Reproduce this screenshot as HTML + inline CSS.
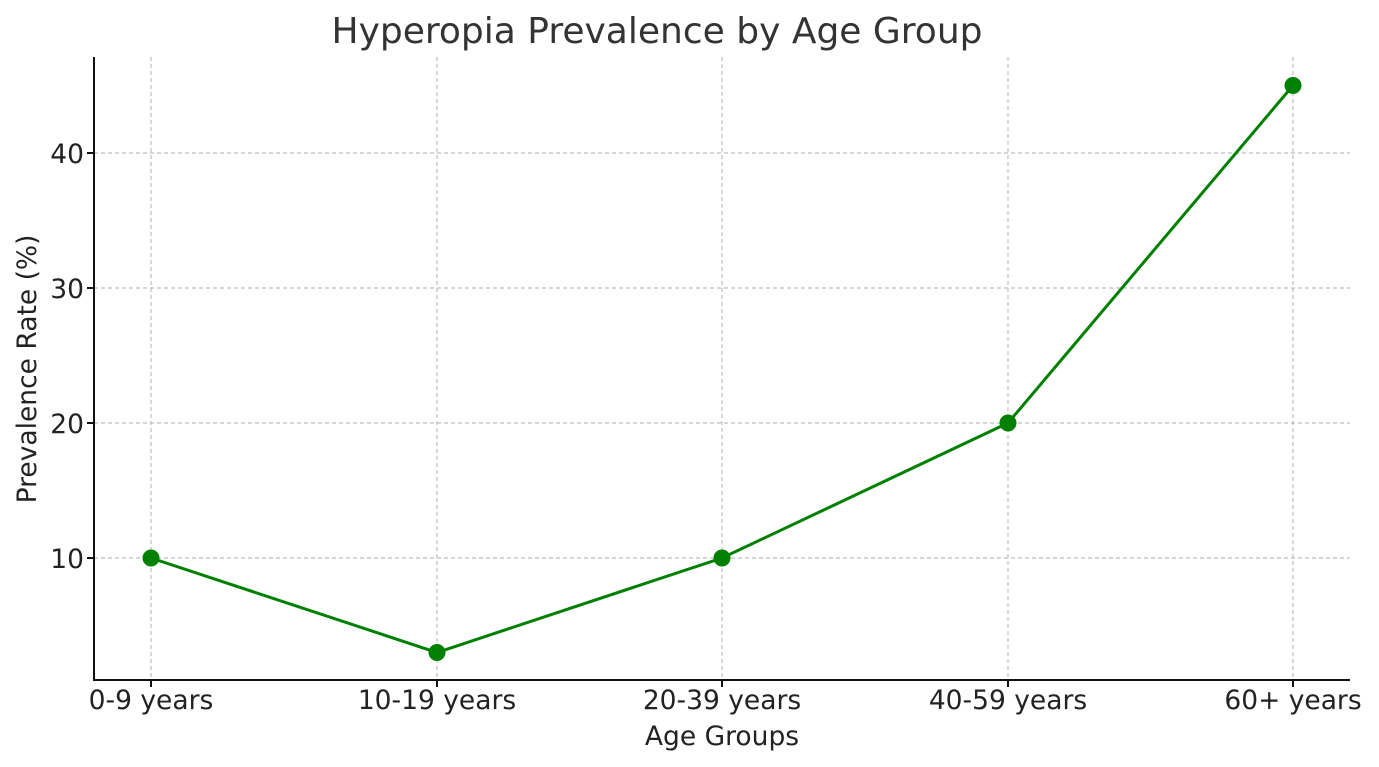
<!DOCTYPE html>
<html><head><meta charset="utf-8"><style>body{margin:0;background:#fff}svg{display:block}</style></head>
<body>
<svg width="1379" height="767" viewBox="0 0 1379 767" xmlns="http://www.w3.org/2000/svg" font-family="DejaVu Sans, Liberation Sans, sans-serif" fill="#222">
<g stroke="#bdbdbd" stroke-width="1.2" stroke-dasharray="4,3">
<line x1="151" y1="57" x2="151" y2="680"/><line x1="437" y1="57" x2="437" y2="680"/><line x1="722" y1="57" x2="722" y2="680"/><line x1="1008" y1="57" x2="1008" y2="680"/><line x1="1293" y1="57" x2="1293" y2="680"/>
<line x1="94" y1="153" x2="1350" y2="153"/><line x1="94" y1="288" x2="1350" y2="288"/><line x1="94" y1="423" x2="1350" y2="423"/><line x1="94" y1="558" x2="1350" y2="558"/>
</g>
<g stroke="#111" stroke-width="2">
<line x1="94" y1="57" x2="94" y2="681"/><line x1="93" y1="680" x2="1350" y2="680"/>
<line x1="87" y1="153" x2="94" y2="153"/><line x1="87" y1="288" x2="94" y2="288"/><line x1="87" y1="423" x2="94" y2="423"/><line x1="87" y1="558" x2="94" y2="558"/>
<line x1="151" y1="680" x2="151" y2="687"/><line x1="437" y1="680" x2="437" y2="687"/><line x1="722" y1="680" x2="722" y2="687"/><line x1="1008" y1="680" x2="1008" y2="687"/><line x1="1293" y1="680" x2="1293" y2="687"/>
</g>
<polyline points="151,558 437,652.5 722,558 1008,423 1293,85.5" fill="none" stroke="#008000" stroke-width="3"/>
<g fill="#008000"><circle cx="151" cy="558" r="8.5"/><circle cx="437" cy="652.5" r="8.5"/><circle cx="722" cy="558" r="8.5"/><circle cx="1008" cy="423" r="8.5"/><circle cx="1293" cy="85.5" r="8.5"/></g>
<g font-size="26.5" text-anchor="end">
<text x="84" y="163">40</text><text x="84" y="298">30</text><text x="84" y="433">20</text><text x="84" y="568">10</text>
</g>
<g font-size="26.5" text-anchor="middle">
<text x="151" y="709">0-9 years</text><text x="437" y="709">10-19 years</text><text x="722" y="709">20-39 years</text><text x="1008" y="709">40-59 years</text><text x="1293" y="709">60+ years</text>
<text x="722" y="745">Age Groups</text>
<text transform="translate(36,369) rotate(-90)">Prevalence Rate (%)</text>
<text x="657" y="43" font-size="36" fill="#333">Hyperopia Prevalence by Age Group</text>
</g>
</svg>
</body></html>
